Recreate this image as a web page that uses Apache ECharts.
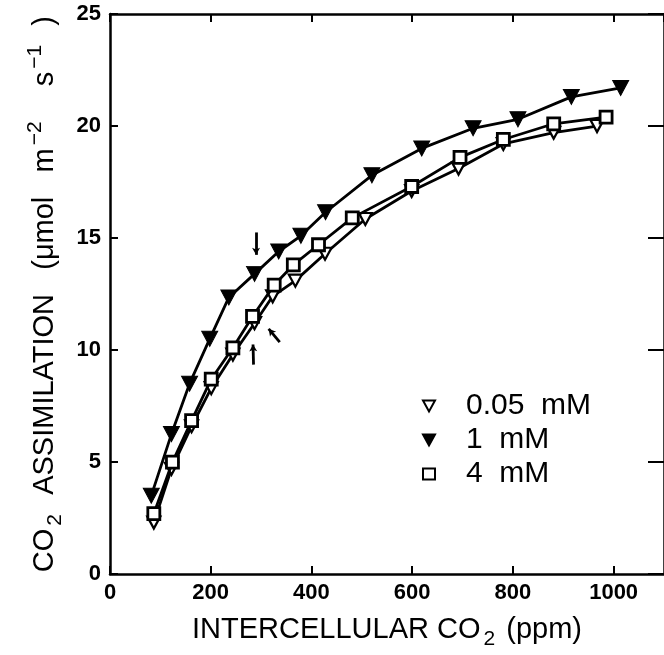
<!DOCTYPE html>
<html>
<head>
<meta charset="utf-8">
<script src="https://cdn.jsdelivr.net/npm/echarts@6/dist/echarts.min.js"></script>
<style>
html,body{margin:0;padding:0;background:#fff;}
#chart{width:664px;height:655px;}
</style>
</head>
<body>
<div id="chart"></div>
<script>
// Data
const seriesNames = ['0.05 mM', '1 mM', '4 mM'];
const xLow  = [87, 122, 162, 201, 244, 287, 323, 368, 427, 507, 599, 692, 781, 881, 967];
const yLow  = [2.3, 4.7, 6.6, 8.3, 9.8, 11.2, 12.4, 13.1, 14.3, 15.85, 17.1, 18.1, 19.2, 19.7, 20.0];
const xMid  = [82, 122, 158, 198, 236, 287, 335, 379, 428, 520, 619, 721, 810, 916, 1014];
const yMid  = [3.5, 6.25, 8.5, 10.5, 12.35, 13.4, 14.4, 15.1, 16.15, 17.8, 19.0, 19.9, 20.3, 21.3, 21.7];
const xHigh = [87, 124, 162, 201, 244, 283, 326, 364, 414, 481, 599, 695, 781, 881, 985];
const yHigh = [2.7, 5.0, 6.85, 8.7, 10.1, 11.5, 12.9, 13.8, 14.7, 15.9, 17.3, 18.6, 19.4, 20.1, 20.4];
const xTicks = [0, 200, 400, 600, 800, 1000];
const yTicks = [0, 5, 10, 15, 20, 25];
// annotation arrows (data coords): from -> to
const arrowFrom = [[290, 15.25], [337, 10.35], [285, 9.35]];
const arrowTo   = [[290, 14.25], [315, 10.95], [284, 10.25]];

const zip = (xs, ys) => xs.map((x, i) => [x, ys[i]]);
const FONT = 'Liberation Sans';
const downTri = 'path://M0,0 L10,0 L5,9 Z';

const chart = echarts.init(document.getElementById('chart'), null, {renderer: 'canvas'});

const axisCommon = {
  type: 'value',
  splitLine: {show: false},
  axisLine: {show: true, onZero: false, lineStyle: {color: '#000', width: 2.5}},
  axisTick: {show: true, inside: true, length: 8, lineStyle: {color: '#000', width: 2}}
};

const option = {
  animation: false,
  backgroundColor: '#fff',
  grid: {left: 110, top: 14, width: 560, height: 561},
  legend: {
    orient: 'vertical',
    left: 417,
    top: 386,
    itemGap: 4,
    itemWidth: 12,
    itemHeight: 11,
    textStyle: {fontFamily: FONT, fontSize: 30, color: '#000', padding: [0, 0, 0, 26]},
    data: [
      {name: seriesNames[0], icon: downTri},
      {name: seriesNames[1], icon: downTri},
      {name: seriesNames[2], icon: 'rect'}
    ],
    formatter: function (n) { return n.replace(' ', '  '); }
  },
  xAxis: [
    Object.assign({}, axisCommon, {
      min: 0, max: 1100, interval: 200, position: 'bottom',
      axisLabel: {showMaxLabel: false, fontFamily: FONT, fontSize: 22, fontWeight: 'bold', color: '#000', margin: 8,
        formatter: v => xTicks.includes(v) ? String(v) : ''},
      name: '{a|INTERCELLULAR CO}{sub|2}{a| (ppm)}',
      nameLocation: 'middle',
      nameGap: 18,
      nameTextStyle: {
        rich: {
          a: {fontFamily: FONT, fontSize: 29, color: '#000', lineHeight: 30},
          sub: {fontFamily: FONT, fontSize: 21, color: '#000', lineHeight: 20, padding: [20, 3, 0, 3]}
        }
      }
    }),
    Object.assign({}, axisCommon, {
      min: 0, max: 1100, interval: 200, position: 'top',
      axisLabel: {show: false}
    })
  ],
  yAxis: [
    Object.assign({}, axisCommon, {
      min: 0, max: 25, interval: 5, position: 'left',
      axisLabel: {fontFamily: FONT, fontSize: 22, fontWeight: 'bold', color: '#000', margin: 9,
        formatter: v => yTicks.includes(v) ? String(v) : ''},
      name: '{a|CO}{sub|2}{a|  ASSIMILATION   (μmol   m}{sup|−2}{a|    s}{sup|−1}{a|  )}',
      nameLocation: 'middle',
      nameRotate: 90,
      nameGap: 44,
      nameTextStyle: {
        rich: {
          a: {fontFamily: FONT, fontSize: 29, color: '#000', lineHeight: 30},
          sub: {fontFamily: FONT, fontSize: 21, color: '#000', lineHeight: 20, padding: [20, 3, 0, 3]},
          sup: {fontFamily: FONT, fontSize: 21, color: '#000', lineHeight: 20, padding: [0, 3, 20, 3]}
        }
      }
    }),
    Object.assign({}, axisCommon, {
      min: 0, max: 25, interval: 5, position: 'right',
      axisTick: {show: true, inside: true, length: 16, lineStyle: {color: '#000', width: 2}},
      axisLabel: {show: false}
    })
  ],
  series: [
    {
      name: seriesNames[0], type: 'line', data: zip(xLow, yLow),
      symbol: 'triangle', symbolRotate: 180, symbolSize: [13, 12],
      itemStyle: {color: '#fff', borderColor: '#000', borderWidth: 2.2},
      lineStyle: {color: '#000', width: 2.8}, z: 2
    },
    {
      name: seriesNames[1], type: 'line', data: zip(xMid, yMid),
      symbol: 'triangle', symbolRotate: 180, symbolSize: [16, 15],
      itemStyle: {color: '#000', borderColor: '#000', borderWidth: 1},
      lineStyle: {color: '#000', width: 2.8}, z: 3,
      markLine: {
        silent: true,
        symbol: ['none', 'arrow'],
        symbolSize: [6, 7],
        label: {show: false},
        lineStyle: {color: '#000', width: 2.8, type: 'solid'},
        data: arrowFrom.map((p, i) => [{coord: p}, {coord: arrowTo[i]}])
      }
    },
    {
      name: seriesNames[2], type: 'line', data: zip(xHigh, yHigh),
      symbol: 'rect', symbolSize: 12,
      itemStyle: {color: '#fff', borderColor: '#000', borderWidth: 2.8},
      lineStyle: {color: '#000', width: 2.8}, z: 4
    }
  ]
};
chart.setOption(option);
</script>
</body>
</html>
